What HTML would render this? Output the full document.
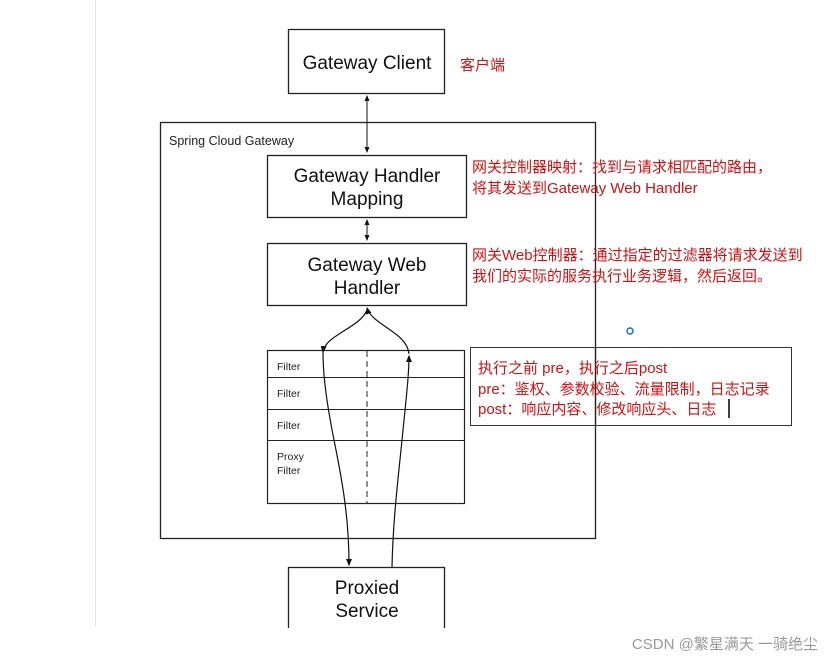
<!DOCTYPE html>
<html><head><meta charset="utf-8"><style>
html,body{margin:0;padding:0;background:#fff;}
svg{display:block}
.cn{font-family:"Liberation Sans","Noto Sans CJK SC",sans-serif;fill:#d01010;font-size:15px}
.b{font-family:"Liberation Sans",sans-serif;fill:#111;font-size:19px;text-anchor:middle}
.s{font-family:"Liberation Sans",sans-serif;fill:#222;font-size:10.5px}
</style></head><body>
<svg width="835" height="663" viewBox="0 0 835 663" xmlns="http://www.w3.org/2000/svg">
<defs><marker id="a" markerWidth="6" markerHeight="6" refX="5" refY="3" orient="auto-start-reverse"><path d="M0,0.5 L6,3 L0,5.5z" fill="#111"/></marker></defs>
<line x1="95.5" y1="0" x2="95.5" y2="627" stroke="#e4e4e4" stroke-width="1"/>
<rect x="160.5" y="122.5" width="435" height="416" fill="none" stroke="#222" stroke-width="1.3"/>
<text x="169" y="145" class="s" style="font-size:12.5px">Spring Cloud Gateway</text>
<rect x="288.5" y="29.5" width="156" height="64" fill="#fff" stroke="#222" stroke-width="1.3"/>
<text x="367" y="69" class="b">Gateway Client</text>
<text x="460" y="70" class="cn">客户端</text>
<rect x="267.5" y="155.5" width="199" height="62" fill="#fff" stroke="#222" stroke-width="1.3"/>
<text x="367" y="182" class="b">Gateway Handler</text>
<text x="367" y="205" class="b">Mapping</text>
<rect x="267.5" y="243.5" width="199" height="62" fill="#fff" stroke="#222" stroke-width="1.3"/>
<text x="367" y="271" class="b">Gateway Web</text>
<text x="367" y="294" class="b">Handler</text>
<line x1="367" y1="96" x2="367" y2="152" stroke="#111" marker-start="url(#a)" marker-end="url(#a)"/>
<line x1="367" y1="220" x2="367" y2="240" stroke="#111" marker-start="url(#a)" marker-end="url(#a)"/>
<rect x="267.5" y="350.5" width="197" height="153" fill="#fff" stroke="#222" stroke-width="1.2"/>
<line x1="267" y1="377.5" x2="465" y2="377.5" stroke="#222"/>
<line x1="267" y1="409.5" x2="465" y2="409.5" stroke="#222"/>
<line x1="267" y1="440.5" x2="465" y2="440.5" stroke="#222"/>
<line x1="367" y1="351" x2="367" y2="503" stroke="#222" stroke-dasharray="6,4"/>
<text x="277" y="370" class="s">Filter</text>
<text x="277" y="397" class="s">Filter</text>
<text x="277" y="429" class="s">Filter</text>
<text x="277" y="460" class="s">Proxy</text>
<text x="277" y="474" class="s">Filter</text>
<!-- left curve: from handler down to filter top (arrow down), then to proxied (arrow down) -->
<path d="M367,310 C360,328 325,335 323,352" fill="none" stroke="#111" stroke-width="1.2" marker-end="url(#a)"/>
<path d="M323,352 C323,380 328,410 335,445 C343,485 349,520 349,565" fill="none" stroke="#111" stroke-width="1.2" marker-end="url(#a)"/>
<!-- right curve: from proxied up to filter top (arrow up), then to handler (arrow up) -->
<path d="M392,567 C393,520 398,480 402,440 C406,400 409,375 409,356" fill="none" stroke="#111" stroke-width="1.2" marker-end="url(#a)"/>
<path d="M409,354 C407,332 372,325 367,308" fill="none" stroke="#111" stroke-width="1.2" marker-end="url(#a)"/>
<rect x="288.5" y="567.5" width="156" height="70" fill="#fff" stroke="#222" stroke-width="1.3"/>
<rect x="280" y="628" width="200" height="35" fill="#fff"/>
<text x="367" y="594" class="b">Proxied</text>
<text x="367" y="617" class="b">Service</text>
<text x="472" y="172" class="cn">网关控制器映射：找到与请求相匹配的路由，</text>
<text x="472" y="193" class="cn">将其发送到Gateway Web Handler</text>
<text x="472" y="260" class="cn">网关Web控制器：通过指定的过滤器将请求发送到</text>
<text x="472" y="281" class="cn">我们的实际的服务执行业务逻辑，然后返回。</text>
<circle cx="630" cy="331" r="3" fill="none" stroke="#1a6fd0" stroke-width="1.5"/>
<rect x="470.5" y="347.5" width="321" height="78" fill="none" stroke="#333" stroke-width="1"/>
<line x1="595.5" y1="347" x2="595.5" y2="426" stroke="#222" stroke-width="1.2"/>
<text x="478" y="373" class="cn">执行之前  pre，执行之后post</text>
<text x="478" y="394" class="cn">pre：鉴权、参数校验、流量限制，日志记录</text>
<text x="478" y="414" class="cn">post：响应内容、修改响应头、日志</text>
<line x1="729" y1="399" x2="729" y2="418" stroke="#000" stroke-width="1.5"/>
<text x="818" y="649" style="font-family:'Liberation Sans','Noto Sans CJK SC',sans-serif;font-size:15px;fill:#999;text-anchor:end">CSDN @繁星满天 一骑绝尘</text>
</svg>
</body></html>
